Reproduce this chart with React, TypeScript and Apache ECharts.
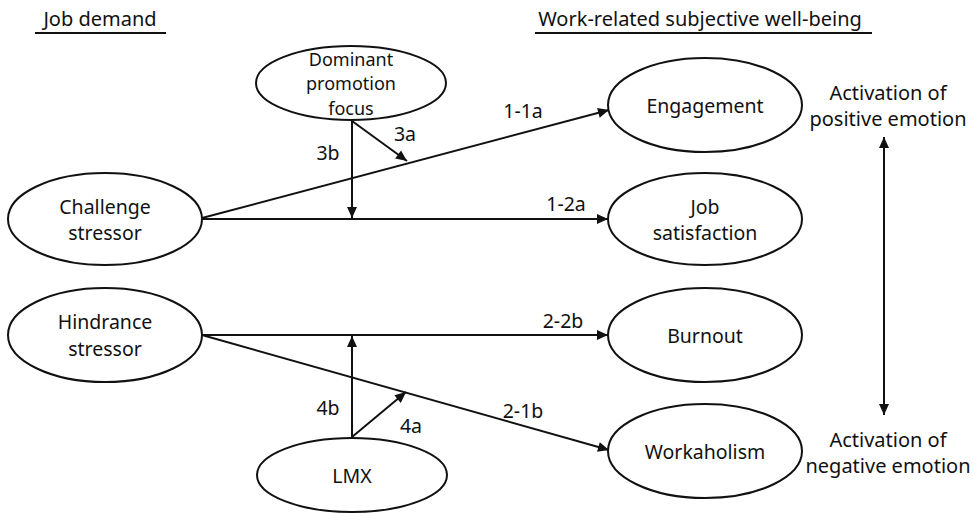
import React, { useEffect, useRef } from "react";
import * as echarts from "echarts";

// ---- content ----
const headings = ["Job demand", "Work-related subjective well-being"];
const nodeLabels = [
  "Dominant\npromotion\nfocus",
  "Challenge\nstressor",
  "Hindrance\nstressor",
  "LMX",
  "Engagement",
  "Job\nsatisfaction",
  "Burnout",
  "Workaholism",
];
const pathLabels = ["1-1a", "1-2a", "2-2b", "2-1b", "3a", "3b", "4a", "4b"];
const sideLabels = ["Activation of\npositive emotion", "Activation of\nnegative emotion"];

// ---- layout (pixels) ----
const nodeLayout = [
  { cx: 351, cy: 83, rx: 95, ry: 37, lh: 24.5, fs: 18 },
  { cx: 105, cy: 219, rx: 97, ry: 46, lh: 26, fs: 19.5 },
  { cx: 105, cy: 335, rx: 97, ry: 47, lh: 27, fs: 19.5 },
  { cx: 352, cy: 475, rx: 95, ry: 37, lh: 24, fs: 19.5 },
  { cx: 705, cy: 105, rx: 97, ry: 47, lh: 24, fs: 19.5 },
  { cx: 705, cy: 219, rx: 97, ry: 46, lh: 26, fs: 19.5 },
  { cx: 705, cy: 335, rx: 97, ry: 47, lh: 24, fs: 19.5 },
  { cx: 705, cy: 451, rx: 97, ry: 47, lh: 24, fs: 19.5 },
];
const pathLabelPos = [
  [523, 110], [566, 203], [563, 320], [523, 410],
  [405, 133], [328, 152], [411, 425], [328, 407],
];
const headingLayout = [
  { x: 100, y: 18, ux1: 35, ux2: 166 },
  { x: 700, y: 18, ux1: 535, ux2: 872 },
];
const sidePos = [[888, 105], [888, 452]];
// [x1, y1, x2, y2, arrowAtEnd, arrowAtStart]
const arrows = [
  [202, 218, 609, 110, 1, 0],
  [202, 219, 608, 219, 1, 0],
  [202, 335, 608, 335, 1, 0],
  [202, 335, 609, 450, 1, 0],
  [352, 121, 352, 218, 1, 0],
  [352, 121, 407, 161, 1, 0],
  [352, 437, 352, 336, 1, 0],
  [352, 437, 406, 392, 1, 0],
  [884, 137, 884, 415, 1, 1],
];

const INK = "#111";
const FAMILY = '"Noto Sans", sans-serif';
const FONT = '20px ' + FAMILY;
const FONT_LABEL = '19.5px ' + FAMILY;

function head(x1: number, y1: number, x2: number, y2: number) {
  const dx = x2 - x1, dy = y2 - y1;
  const len = Math.hypot(dx, dy);
  const ux = dx / len, uy = dy / len;
  const nx = -uy, ny = ux;
  const L = 11, W = 5;
  return {
    type: "polygon",
    shape: {
      points: [
        [x2, y2],
        [x2 - L * ux + W * nx, y2 - L * uy + W * ny],
        [x2 - L * ux - W * nx, y2 - L * uy - W * ny],
      ],
    },
    style: { fill: INK },
  };
}

export default function App() {
  const ref = useRef<HTMLDivElement>(null);
  useEffect(() => {
    if (!ref.current) return;
    const chart = echarts.init(ref.current, null, { renderer: "svg" });
    const g: any[] = [];
    headings.forEach((t, i) => {
      const h = headingLayout[i];
      g.push({
        type: "text",
        style: { text: t, x: h.x, y: h.y, align: "center", verticalAlign: "middle", font: FONT, fill: "#111" },
      });
      g.push({
        type: "line",
        shape: { x1: h.ux1, y1: 33, x2: h.ux2, y2: 33 },
        style: { stroke: INK, lineWidth: 2 },
      });
    });
    arrows.forEach((a) => {
      const [x1, y1, x2, y2, e, s] = a;
      g.push({ type: "line", shape: { x1, y1, x2, y2 }, style: { stroke: INK, lineWidth: 2 } });
      if (e) g.push(head(x1, y1, x2, y2));
      if (s) g.push(head(x2, y2, x1, y1));
    });
    nodeLabels.forEach((t, i) => {
      const n = nodeLayout[i];
      g.push({
        type: "ellipse",
        shape: { cx: n.cx, cy: n.cy, rx: n.rx, ry: n.ry },
        style: { fill: "#fff", stroke: INK, lineWidth: 2 },
      });
      g.push({
        type: "text",
        style: {
          text: t, x: n.cx, y: n.cy, align: "center", verticalAlign: "middle",
          font: n.fs + "px " + FAMILY, lineHeight: n.lh, fill: "#111",
        },
      });
    });
    pathLabels.forEach((t, i) => {
      const [x, y] = pathLabelPos[i];
      g.push({
        type: "text",
        style: { text: t, x, y, align: "center", verticalAlign: "middle", font: FONT_LABEL, fill: "#111" },
      });
    });
    sideLabels.forEach((t, i) => {
      const [x, y] = sidePos[i];
      g.push({
        type: "text",
        style: { text: t, x, y, align: "center", verticalAlign: "middle", font: FONT, lineHeight: 26, fill: "#111" },
      });
    });
    chart.setOption({ animation: false, backgroundColor: "#fff", graphic: { elements: g } });
    return () => chart.dispose();
  }, []);
  return (
    <div
      ref={ref}
      style={{ position: "fixed", left: 0, top: 0, width: 973, height: 513, background: "#fff" }}
    />
  );
}
